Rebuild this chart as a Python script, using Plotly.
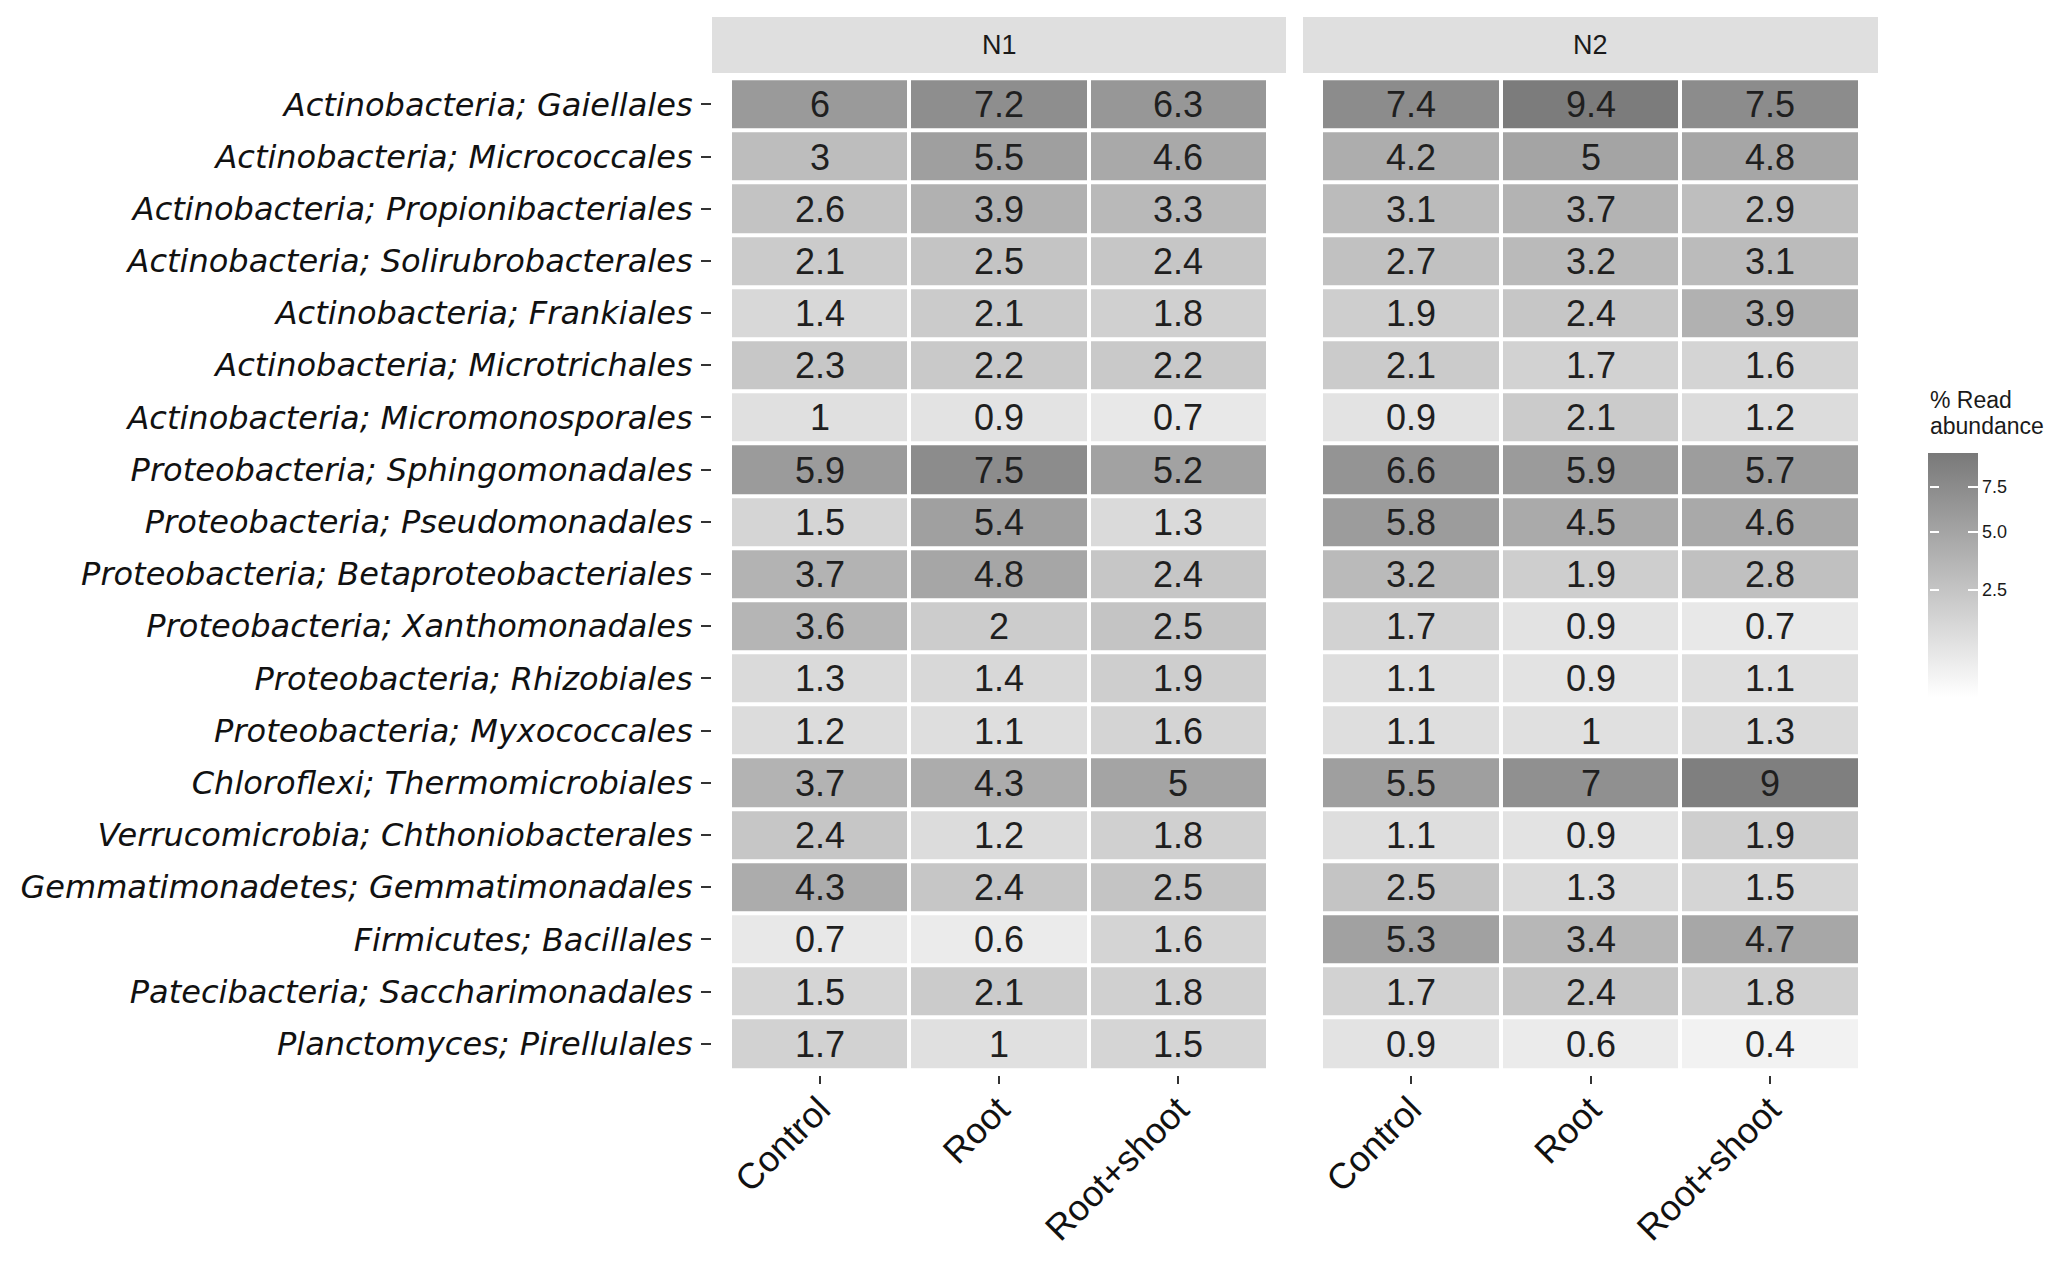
import numpy as np
import plotly.graph_objects as go

W, H = 2067, 1263
OFF = 8  # page body margin in the browser

taxa = [
    "Actinobacteria; Gaiellales",
    "Actinobacteria; Micrococcales",
    "Actinobacteria; Propionibacteriales",
    "Actinobacteria; Solirubrobacterales",
    "Actinobacteria; Frankiales",
    "Actinobacteria; Microtrichales",
    "Actinobacteria; Micromonosporales",
    "Proteobacteria; Sphingomonadales",
    "Proteobacteria; Pseudomonadales",
    "Proteobacteria; Betaproteobacteriales",
    "Proteobacteria; Xanthomonadales",
    "Proteobacteria; Rhizobiales",
    "Proteobacteria; Myxococcales",
    "Chloroflexi; Thermomicrobiales",
    "Verrucomicrobia; Chthoniobacterales",
    "Gemmatimonadetes; Gemmatimonadales",
    "Firmicutes; Bacillales",
    "Patecibacteria; Saccharimonadales",
    "Planctomyces; Pirellulales",
]
treatments = ["Control", "Root", "Root+shoot"]
panels = ["N1", "N2"]

n1_values = [
    [6, 7.2, 6.3],
    [3, 5.5, 4.6],
    [2.6, 3.9, 3.3],
    [2.1, 2.5, 2.4],
    [1.4, 2.1, 1.8],
    [2.3, 2.2, 2.2],
    [1, 0.9, 0.7],
    [5.9, 7.5, 5.2],
    [1.5, 5.4, 1.3],
    [3.7, 4.8, 2.4],
    [3.6, 2, 2.5],
    [1.3, 1.4, 1.9],
    [1.2, 1.1, 1.6],
    [3.7, 4.3, 5],
    [2.4, 1.2, 1.8],
    [4.3, 2.4, 2.5],
    [0.7, 0.6, 1.6],
    [1.5, 2.1, 1.8],
    [1.7, 1, 1.5],
]
n2_values = [
    [7.4, 9.4, 7.5],
    [4.2, 5, 4.8],
    [3.1, 3.7, 2.9],
    [2.7, 3.2, 3.1],
    [1.9, 2.4, 3.9],
    [2.1, 1.7, 1.6],
    [0.9, 2.1, 1.2],
    [6.6, 5.9, 5.7],
    [5.8, 4.5, 4.6],
    [3.2, 1.9, 2.8],
    [1.7, 0.9, 0.7],
    [1.1, 0.9, 1.1],
    [1.1, 1, 1.3],
    [5.5, 7, 9],
    [1.1, 0.9, 1.9],
    [2.5, 1.3, 1.5],
    [5.3, 3.4, 4.7],
    [1.7, 2.4, 1.8],
    [0.9, 0.6, 0.4],
]

legend_ticks = [2.5, 5.0, 7.5]
legend_ticktext = ["2.5", "5.0", "7.5"]
scale_min, scale_max = 0.14, 9.73

colorscale = [[0, "#ffffff"], [1, "#797979"]]
zmin, zmax = np.sqrt(scale_min), np.sqrt(scale_max)


def px_x(p):
    return (p - OFF) / W


def px_y(p):
    return 1 - (p - OFF) / H


panel_x = [(712, 1286), (1303, 1878)]
panel_top, panel_bot = 73, 1075
strip_top = 17
bar_top, bar_len = 453, 244

fig = go.Figure()

for i, (name, vals) in enumerate(zip(panels, [n1_values, n2_values])):
    v = np.array(vals, dtype=float)
    txt = [[f"{x:g}" for x in row] for row in vals]
    if i == 0:
        cb = dict(
            tickvals=list(np.sqrt(legend_ticks)), ticktext=legend_ticktext,
            tickfont=dict(family="Liberation Sans, Arial", size=18, color="#1a1a1a"),
            ticks="inside", tickcolor="white", ticklen=10, tickwidth=2,
            thickness=50, thicknessmode="pixels",
            len=bar_len, lenmode="pixels",
            x=px_x(1928), xanchor="left", xpad=0,
            y=px_y(bar_top), yanchor="top", ypad=0,
            outlinewidth=0,
        )
    else:
        # thin overlay bar: only provides the white ticks on the left edge
        cb = dict(
            tickvals=list(np.sqrt(legend_ticks)), showticklabels=False,
            ticks="outside", tickcolor="white", ticklen=9, tickwidth=2,
            thickness=2, thicknessmode="pixels",
            len=bar_len, lenmode="pixels",
            x=px_x(1928), xanchor="left", xpad=0,
            y=px_y(bar_top), yanchor="top", ypad=0,
            outlinewidth=0,
        )
    fig.add_trace(go.Heatmap(
        x=treatments, y=taxa, z=np.sqrt(v),
        text=txt, texttemplate="%{text}",
        textfont=dict(family="Liberation Sans, Arial", size=36, color="#1f1f1f"),
        colorscale=colorscale, zmin=zmin, zmax=zmax,
        xgap=4, ygap=4,
        showscale=True,
        hoverinfo="skip",
        xaxis="x" if i == 0 else "x2",
        yaxis="y" if i == 0 else "y2",
        colorbar=cb,
    ))

axis_x = dict(
    range=[-0.6, 2.6], showgrid=False, zeroline=False, showline=False,
    ticks="outside", ticklen=8, tickwidth=2, tickcolor="#333333",
    tickangle=-45, ticklabelstandoff=-10,
    tickfont=dict(family="Liberation Sans, Arial", size=36, color="#111111"),
)
fig.update_layout(
    width=W, height=H,
    margin=dict(l=0, r=0, t=0, b=0),
    paper_bgcolor="white", plot_bgcolor="white",
    xaxis=dict(domain=[px_x(panel_x[0][0]), px_x(panel_x[0][1])], anchor="y", **axis_x),
    xaxis2=dict(domain=[px_x(panel_x[1][0]), px_x(panel_x[1][1])], anchor="y2", **axis_x),
    yaxis=dict(domain=[px_y(panel_bot), px_y(panel_top)], anchor="x",
               range=[18.6, -0.6], showgrid=False, zeroline=False, showline=False,
               ticks="outside", ticklen=10, tickwidth=2, tickcolor="#333333",
               ticklabelstandoff=2,
               tickfont=dict(family="DejaVu Sans", size=32, color="#111111", style="italic")),
    yaxis2=dict(domain=[px_y(panel_bot), px_y(panel_top)], anchor="x2",
                range=[18.6, -0.6], showgrid=False, zeroline=False, showline=False,
                showticklabels=False, ticks=""),
)

for (x0, x1), name in zip(panel_x, panels):
    fig.add_shape(type="rect", xref="paper", yref="paper",
                  x0=px_x(x0), x1=px_x(x1), y0=px_y(panel_top), y1=px_y(strip_top),
                  fillcolor="#dfdfdf", line=dict(width=0), layer="below")
    fig.add_annotation(xref="paper", yref="paper", x=px_x((x0 + x1) / 2),
                       y=px_y((strip_top + panel_top) / 2), text=name, showarrow=False,
                       font=dict(family="Liberation Sans, Arial", size=27, color="#1a1a1a"),
                       xanchor="center", yanchor="middle")

# legend title (two lines, tight ggplot-like line spacing)
legend_title_lines = ["% Read", "abundance"]
for line, yc in zip(legend_title_lines, [400, 426]):
    fig.add_annotation(xref="paper", yref="paper", x=px_x(1928), y=px_y(yc),
                       text=line, showarrow=False, align="left",
                       xanchor="left", yanchor="middle",
                       font=dict(family="Liberation Sans, Arial", size=23, color="#1a1a1a"))

fig.write_html("out.html")
